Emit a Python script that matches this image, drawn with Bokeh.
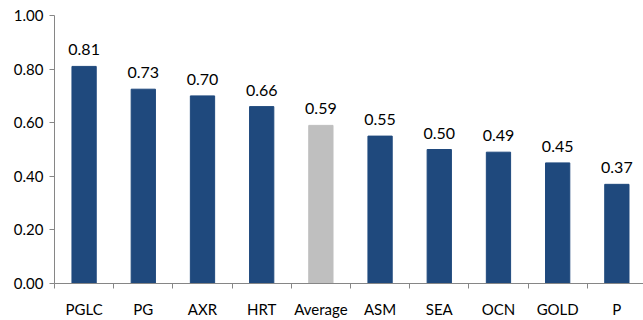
from bokeh.plotting import figure
from bokeh.models import ColumnDataSource, FixedTicker, NumeralTickFormatter, Range1d
from bokeh.core.properties import value
from bokeh.embed import file_html
from bokeh.resources import INLINE

categories = ["PGLC", "PG", "AXR", "HRT", "Average", "ASM", "SEA", "OCN", "GOLD", "P"]
values = [0.81, 0.725, 0.70, 0.66, 0.59, 0.55, 0.50, 0.49, 0.45, 0.37]
value_labels = ["0.81", "0.73", "0.70", "0.66", "0.59", "0.55", "0.50", "0.49", "0.45", "0.37"]
y_ticks = [0.0, 0.2, 0.4, 0.6, 0.8, 1.0]

NAVY = "#1F497D"
GREY = "#BFBFBF"
FONT = "Lato"

xs = list(range(len(categories)))
colors = [GREY if c == "Average" else NAVY for c in categories]
src = ColumnDataSource(dict(x=xs, top=values, color=colors, label=value_labels))

p = figure(width=643, height=320, output_backend="svg", toolbar_location=None,
           x_range=Range1d(-0.5, 9.45), y_range=Range1d(0, 1.0),
           min_border_left=54, min_border_right=0, min_border_top=15, min_border_bottom=36)
p.outline_line_color = None
p.grid.grid_line_color = None
p.background_fill_color = "white"
p.border_fill_color = "white"

p.vbar(x="x", top="top", width=0.41, color="color", source=src)
p.text(x="x", y="top", text="label", source=src, text_align="center",
       text_baseline="bottom", y_offset=-11, text_font_size="16px",
       text_font=value(FONT), text_color="#000000")

ax = p.xaxis[0]
ax.ticker = FixedTicker(ticks=xs, minor_ticks=[i - 0.5 for i in range(len(categories))])
ax.major_label_overrides = {i: c for i, c in enumerate(categories)}
ax.major_tick_line_color = None
ax.minor_tick_line_color = "#868686"
ax.minor_tick_out = 5
ax.minor_tick_in = 0
ax.axis_line_color = "#868686"
ax.major_label_text_font = FONT
ax.major_label_text_font_size = "15px"
ax.major_label_text_color = "#000000"
ax.major_label_standoff = 10

ay = p.yaxis[0]
ay.ticker = FixedTicker(ticks=y_ticks)
ay.formatter = NumeralTickFormatter(format="0.00")
ay.minor_tick_line_color = None
ay.major_tick_line_color = "#868686"
ay.major_tick_out = 5
ay.major_tick_in = 0
ay.axis_line_color = "#868686"
ay.major_label_text_font = FONT
ay.major_label_text_font_size = "15px"
ay.major_label_text_color = "#000000"
ay.major_label_standoff = 6

open("out.html", "w").write(file_html(p, INLINE))
